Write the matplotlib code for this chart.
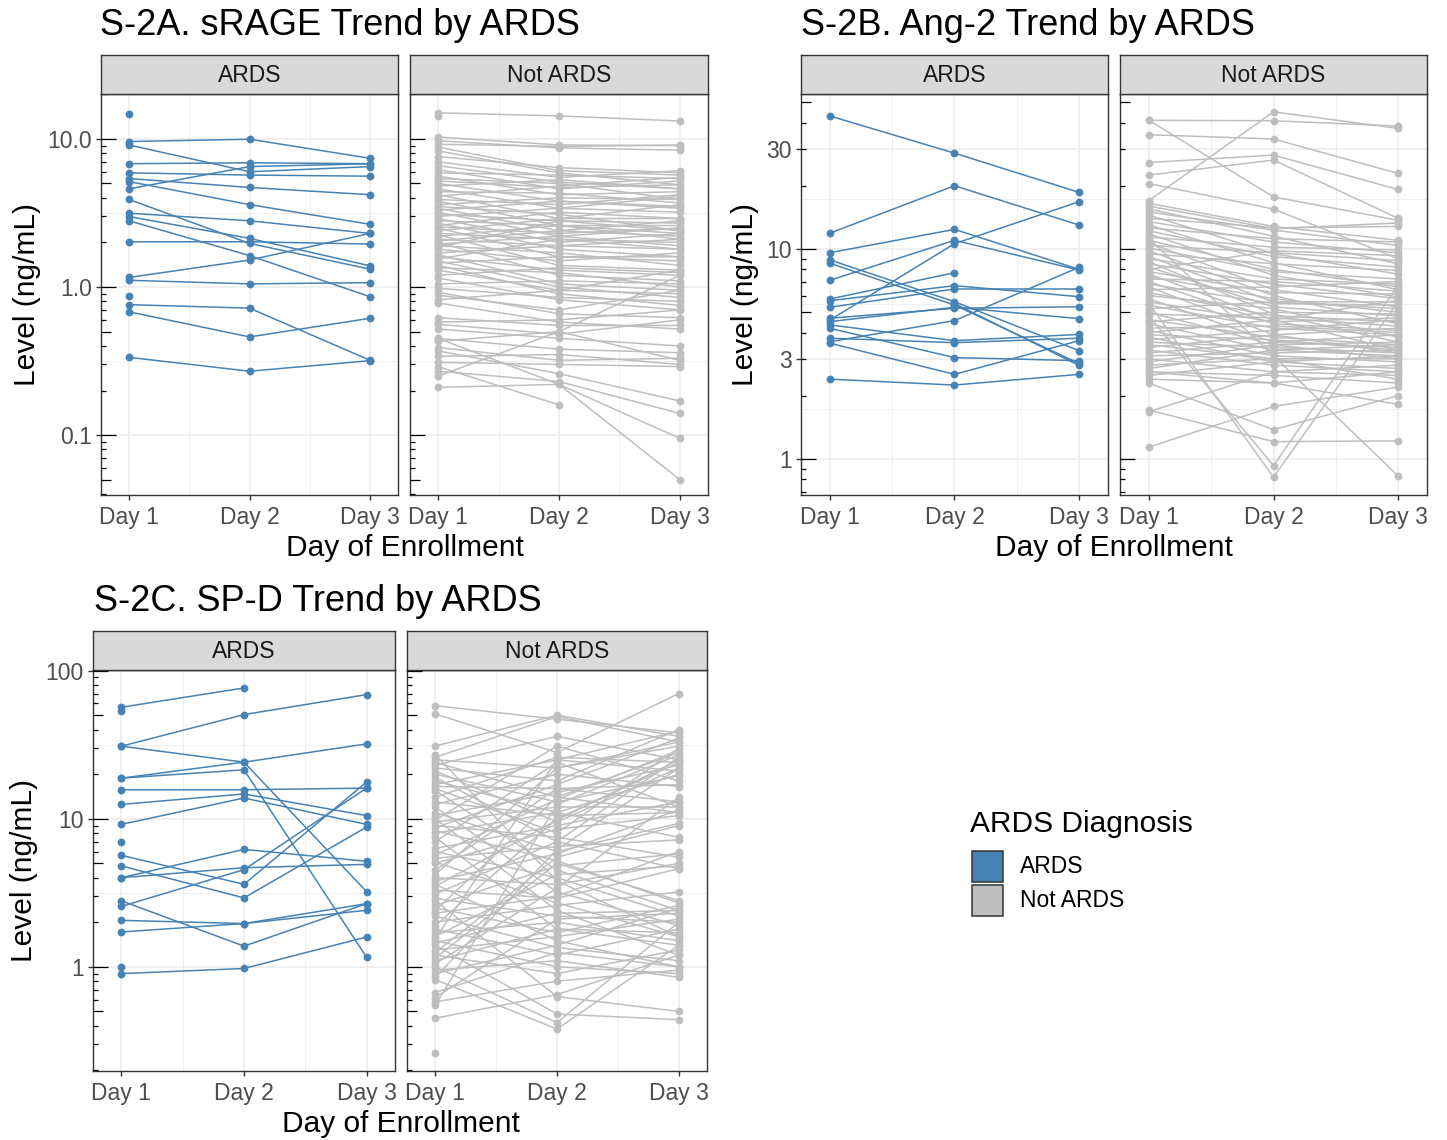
import numpy as np
import matplotlib
matplotlib.use("Agg")
import matplotlib.pyplot as plt
from matplotlib.ticker import NullLocator
from matplotlib.patches import Rectangle

plt.rcParams['font.family'] = ['Liberation Sans', 'DejaVu Sans']

nan = np.nan
W, H = 1447, 1140

days = [1, 2, 3]
day_labels = ['Day 1', 'Day 2', 'Day 3']
group_labels = ['ARDS', 'Not ARDS']
ards_color = '#4682B4'
not_color = '#BEBEBE'

# each row = one patient: (day 1, day 2, day 3), ng/mL
srage_ards = [
    (14.7, nan, nan), (9.6, 9.95, 7.4), (9.1, 6.0, 6.5), (6.8, 6.9, 6.8),
    (5.9, 5.7, 5.6), (5.4, 4.7, 4.2), (4.6, 6.5, 6.8), (5.15, 3.6, 2.65),
    (3.9, 1.97, 1.32), (3.15, 2.8, 2.3), (2.99, 2.13, 1.39), (2.8, 1.63, 0.86),
    (2.02, 2.02, 1.95), (1.16, 1.52, 2.3), (1.11, 1.05, 1.07), (0.87, nan, nan),
    (0.76, 0.72, 0.32), (0.68, 0.46, 0.615), (0.335, 0.27, 0.318),
]
srage_not = [
    (15.0, 14.3, 13.2), (14.2, nan, nan), (10.3, 9.1, 9.0), (9.7, 8.7, 8.4),
    (9.2, 8.9, 9.1), (8.8, 6.1, 5.7), (8.3, 5.9, 4.9), (7.6, 6.4, 5.9),
    (7.0, 5.5, 6.1), (6.6, 5.1, 4.6), (6.2, 4.6, 5.2), (5.9, 5.7, 5.4),
    (5.6, 4.2, 4.4), (5.4, 5.0, 3.9), (5.2, 4.7, 4.9), (5.0, 3.8, 3.5),
    (4.8, 5.3, 4.6), (4.6, 3.4, 3.2), (4.4, 4.3, 3.7), (4.2, 2.9, 2.9),
    (4.1, 4.8, 5.5), (3.9, 3.6, 4.2), (3.8, 2.6, 2.6), (3.6, 4.0, 3.9),
    (3.5, 3.1, 2.4), (3.4, 2.4, 2.2), (3.3, 3.8, 3.4), (3.2, 2.2, 1.9),
    (3.1, 2.8, 2.7), (3.0, 3.4, 4.1), (2.9, 2.0, 2.3), (2.8, 2.6, 2.1),
    (2.7, 1.8, 1.6), (2.6, 3.2, 2.9), (2.55, 2.3, 2.5), (2.5, 1.6, 1.5),
    (2.4, 2.9, 3.6), (2.3, 2.1, 2.0), (2.25, 1.4, 1.3), (2.2, 2.6, 2.3),
    (2.1, 1.9, 1.8), (2.05, 2.4, 2.8), (2.0, 1.2, 1.1), (1.95, 2.2, 2.5),
    (1.9, 1.7, 1.4), (1.85, 2.8, 2.4), (1.8, 1.5, 1.7), (1.7, 1.9, 2.1),
    (1.65, 1.05, 0.95), (1.6, 1.3, 1.2), (1.55, 2.1, 1.8), (1.5, 1.0, 0.85),
    (1.45, 1.6, 1.6), (1.4, 0.9, 0.75), (1.35, 1.25, 1.0), (1.3, 0.95, 0.9),
    (1.2, 1.35, 1.25), (1.15, 0.82, 0.7), (1.05, 1.1, 1.05), (0.98, 0.85, 0.8),
    (0.92, 0.66, 0.62), (0.88, 0.7, 0.95), (0.82, 0.95, 1.3), (0.78, 0.58, 0.52),
    (0.62, 0.55, 0.55), (0.58, 0.6, 0.7), (0.56, 0.48, 0.6), (0.52, 0.45, 0.4),
    (0.45, 0.38, 0.36), (0.43, 0.5, 0.32), (0.45, 0.22, 0.05), (0.39, 0.32, 0.33),
    (0.37, 0.26, 0.17), (0.34, 0.35, 0.3), (0.31, 0.3, 0.29), (0.29, 0.16, nan),
    (0.27, 0.23, 0.14), (0.25, 0.5, 1.2), (0.21, 0.22, 0.095),
]
ang2_ards = [
    (43.0, 28.6, 18.6), (11.9, 20.0, 13.0), (9.6, 12.4, 8.0), (4.59, 10.6, 16.8),
    (7.1, 11.0, 7.94), (8.87, 5.61, 3.28), (8.55, 5.41, 2.85), (5.78, 7.71, nan),
    (5.67, 6.69, 5.93), (5.28, 6.45, 6.45), (4.68, 5.22, 5.31), (4.51, 5.28, 4.66),
    (4.35, 3.66, 3.92), (4.19, 3.04, 2.94), (3.76, 3.58, 3.76), (3.62, 4.56, 8.18),
    (3.56, 2.53, 3.66), (2.40, 2.25, 2.53), (nan, 5.5, 2.79),
]
ang2_not = [
    (41.0, 40.8, 38.5), (41.0, 17.7, 13.7), (35.0, 33.4, 22.9), (25.8, 28.0, 19.2),
    (22.5, 26.5, 14.0), (20.5, 15.5, 9.0), (17.0, 45.0, 37.5), (16.5, 12.8, 11.0),
    (16.0, 12.5, 13.3), (15.5, 11.5, 8.5), (15.0, 12.3, 10.4), (14.5, 9.5, 7.6),
    (14.0, 12.6, 12.8), (13.5, 10.8, 9.6), (13.0, 8.6, 6.4), (12.6, 11.2, 10.8),
    (12.2, 9.2, 8.2), (11.8, 7.5, 5.9), (11.4, 10.2, 9.9), (11.2, 3.1, 0.83),
    (11.0, 8.0, 6.6), (10.7, 6.4, 5.3), (10.4, 9.6, 8.8), (10.1, 7.8, 7.2),
    (9.8, 6.0, 4.4), (9.5, 8.5, 7.9), (9.2, 5.6, 5.6), (9.0, 7.2, 6.8),
    (8.7, 4.9, 3.6), (8.5, 6.8, 5.8), (8.2, 5.3, 4.8), (8.0, 9.8, 9.3),
    (7.8, 6.2, 6.1), (7.6, 4.6, 3.3), (7.4, 5.8, 5.0), (7.2, 7.0, 6.3),
    (7.0, 4.4, 4.1), (6.8, 5.5, 5.4), (6.6, 3.9, 3.2), (6.4, 6.6, 7.0),
    (6.2, 4.8, 4.5), (6.0, 5.2, 3.8), (5.8, 3.6, 3.4), (5.6, 4.5, 4.7),
    (5.5, 0.82, 5.6), (5.4, 4.2, 3.9), (5.2, 5.6, 5.2), (5.0, 3.5, 3.0),
    (4.9, 4.7, 4.3), (4.8, 0.93, 6.7), (4.6, 3.8, 3.5), (4.5, 5.0, 4.9),
    (4.4, 3.3, 3.1), (4.2, 4.3, 4.0), (4.1, 3.1, 2.9), (4.0, 4.6, 5.7),
    (3.9, 3.7, 3.3), (3.8, 2.9, 2.7), (3.7, 4.1, 4.6), (3.6, 3.4, 3.2),
    (3.5, 3.0, 3.0), (3.4, 3.9, 4.2), (3.3, 2.8, 2.6), (3.2, 3.6, 3.9),
    (3.1, 3.2, 3.3), (3.0, 2.6, 2.5), (2.9, 3.5, 3.6), (2.8, 3.0, 2.4),
    (2.7, 3.3, 3.5), (2.6, 2.5, 2.3), (2.5, 2.9, 3.1), (2.4, 2.3, 2.6),
    (2.6, 2.3, 1.82), (2.3, 1.38, 2.0), (1.71, 1.21, 1.22), (1.68, 2.6, 2.8),
    (1.14, 1.78, 2.2),
]
spd_ards = [
    (56.6, 76.4, nan), (53.8, nan, nan), (30.9, 50.5, 68.9), (30.9, 24.1, 3.22),
    (18.8, 24.1, 32.0), (18.8, 21.4, 1.16), (15.7, 15.7, 16.1), (12.5, 14.7, 10.5),
    (9.16, 13.8, 9.16), (6.96, nan, nan), (5.66, 3.61, 17.7), (4.80, 2.92, 8.79),
    (4.0, 6.21, 5.16), (4.0, 4.67, 4.92), (2.79, 1.38, 2.67), (2.56, 4.53, 16.1),
    (2.06, 1.96, 2.41), (1.72, 1.96, 2.67), (0.90, 0.975, 1.59), (1.0, nan, nan),
]
spd_not = [
    (58, 47, 38), (51, 28, 70), (31, 50, 36), (27, 3.8, 1.6), (26, 49, 33),
    (25, 22, 31), (24, 14, 28), (23, 36, 25), (22, 18, 40), (21, 9.5, 22),
    (20, 13, 19.5), (19, 7.0, 4.6), (18, 11, 7.5), (17, 25, 21), (16.5, 16, 13),
    (16, 8.0, 30), (15.5, 4.5, 2.4), (14, 26, 24), (13, 10.5, 11), (12.5, 20, 16.5),
    (12, 3.2, 1.9), (11, 6.0, 9.3), (10.5, 15, 23), (10, 2.4, 1.2), (9.8, 31, 18),
    (9.5, 12, 12), (9.0, 7.5, 5.5), (8.7, 17, 35), (8.3, 5.2, 2.7), (8.0, 11, 20),
    (7.5, 1.8, 1.4), (7.0, 24, 12), (6.3, 9.0, 13), (6.0, 4.0, 2.2), (5.7, 13.5, 29),
    (5.4, 6.5, 7.2), (5.1, 2.7, 1.6), (5.0, 8.5, 10.5), (4.5, 16, 17), (4.2, 22, 33),
    (4.0, 3.6, 5.0), (3.8, 5.8, 11.5), (3.6, 1.5, 1.0), (3.5, 9.8, 25), (3.3, 2.9, 4.6),
    (3.1, 7.0, 26), (2.9, 2.2, 2.0), (2.8, 0.63, 0.5), (2.6, 4.8, 5.8), (2.5, 1.7, 2.6),
    (2.4, 14, 11), (2.3, 3.0, 6.0), (2.2, 1.35, 1.1), (2.0, 2.6, 3.2), (1.9, 10, 24),
    (1.8, 1.2, 1.8), (1.7, 2.0, 1.5), (1.6, 4.2, 4.8), (1.55, 25, 39), (1.5, 1.0, 0.9),
    (1.45, 2.3, 2.4), (1.4, 0.48, 0.44), (1.3, 1.6, 2.1), (1.25, 5.5, 9.0), (1.2, 0.9, 1.3),
    (1.15, 5.0, 2.8), (1.1, 1.8, 1.7), (1.05, 3.4, 14), (1.0, 0.42, 2.0), (0.95, 1.1, 0.85),
    (0.9, 1.4, 2.5), (0.85, 6.2, 22), (0.82, 0.38, 1.4), (0.67, 1.25, 1.0), (0.62, 2.1, 2.3),
    (0.58, 0.8, 0.95), (0.55, 12.5, 27), (0.45, 0.65, 1.2), (0.26, nan, nan),
]


def px_axes(fig, x0, y0, x1, y1):
    return fig.add_axes([x0 / W, 1 - y1 / H, (x1 - x0) / W, (y1 - y0) / H])


def log_ticks(ax, lo, hi, width_px):
    tr = ax.get_yaxis_transform()
    for e in range(int(np.floor(np.log10(lo))), int(np.ceil(np.log10(hi))) + 1):
        for m in range(1, 10):
            v = m * 10.0 ** e
            if lo <= v <= hi:
                n = 15 if m == 1 else 10 if m == 5 else 5
                ax.plot([0, n / width_px], [v, v], transform=tr, color='black',
                        lw=0.9, solid_capstyle='butt', zorder=4)


def panel(fig, box, rows, color, label, ylim, breaks, ticklabels, show_y):
    x0, y0, x1, y1 = box
    ax = px_axes(fig, x0, y0, x1, y1)
    ax.set_yscale('log')
    lb = np.log10(breaks)
    minor = 10 ** ((lb[:-1] + lb[1:]) / 2)
    for v in breaks:
        ax.axhline(v, color='#EBEBEB', lw=1.1, zorder=0)
    for v in minor:
        ax.axhline(v, color='#EBEBEB', lw=0.55, zorder=0)
    for d in days:
        ax.axvline(d, color='#EBEBEB', lw=1.1, zorder=0)
    for d in (1.5, 2.5):
        ax.axvline(d, color='#EBEBEB', lw=0.55, zorder=0)
    for r in rows:
        ax.plot(days, r, '-o', color=color, lw=1.1, ms=5.6, mew=0, zorder=2)
    log_ticks(ax, ylim[0], ylim[1], x1 - x0)
    ax.set_xlim(0.768, 3.232)
    ax.set_ylim(*ylim)
    ax.yaxis.set_minor_locator(NullLocator())
    ax.set_xticks(days)
    ax.set_xticklabels(day_labels)
    ax.set_yticks(breaks)
    ax.set_yticklabels(ticklabels)
    ax.tick_params(direction='out', length=3.6, width=1.0, color='#333333',
                   labelsize=16.5, labelcolor='#4D4D4D')
    ax.tick_params(axis='x', pad=4.5)
    ax.tick_params(axis='y', pad=3)
    if not show_y:
        ax.tick_params(axis='y', length=0, labelleft=False)
    for s in ax.spines.values():
        s.set_color('#333333')
        s.set_linewidth(1.0)
    st = px_axes(fig, x0, y0 - 39, x1, y0)
    st.set_facecolor('#D9D9D9')
    st.set_xticks([])
    st.set_yticks([])
    for s in st.spines.values():
        s.set_color('#333333')
        s.set_linewidth(1.0)
    st.text(0.5, 0.47, label, ha='center', va='center', fontsize=16.5,
            color='#1A1A1A', transform=st.transAxes)
    return ax


def figure_block(fig, boxes, data, ylim, breaks, ticklabels, title, title_xy,
                 xlab_xy, ylab_xy):
    colors = [ards_color, not_color]
    for i in range(2):
        panel(fig, boxes[i], data[i], colors[i], group_labels[i], ylim,
              breaks, ticklabels, i == 0)
    fig.text(title_xy[0] / W, 1 - title_xy[1] / H, title, fontsize=26,
             va='baseline', ha='left')
    fig.text(xlab_xy[0] / W, 1 - xlab_xy[1] / H, 'Day of Enrollment',
             fontsize=21.5, ha='center', va='baseline')
    fig.text(ylab_xy[0] / W, 1 - ylab_xy[1] / H, 'Level (ng/mL)',
             fontsize=21.5, ha='center', va='center', rotation=90)


fig = plt.figure(figsize=(W / 100, H / 100), dpi=100)

figure_block(fig, [(101, 94, 398, 495), (410, 94, 708, 495)],
             [srage_ards, srage_not], (0.0394, 20.1), [0.1, 1, 10],
             ['0.1', '1.0', '10.0'], 'S-2A. sRAGE Trend by ARDS',
             (100, 35), (405, 556), (27, 294))

figure_block(fig, [(801, 94, 1108, 495), (1120, 94, 1427, 495)],
             [ang2_ards, ang2_not], (0.674, 54.7), [1, 3, 10, 30],
             ['1', '3', '10', '30'], 'S-2B. Ang-2 Trend by ARDS',
             (801, 35), (1114, 556), (745, 294))

figure_block(fig, [(93, 670, 395, 1071), (407, 670, 707, 1071)],
             [spd_ards, spd_not], (0.198, 101), [1, 10, 100],
             ['1', '10', '100'], 'S-2C. SP-D Trend by ARDS',
             (94, 611), (401, 1132), (24, 870))

# legend
fig.text(970 / W, 1 - 832 / H, 'ARDS Diagnosis', fontsize=21.5,
         ha='left', va='baseline')
for i, (lab, col) in enumerate(zip(group_labels, [ards_color, not_color])):
    ytop = 851 + i * 34
    fig.add_artist(Rectangle((972 / W, 1 - (ytop + 31) / H), 31 / W, 31 / H,
                             transform=fig.transFigure, facecolor=col,
                             edgecolor='#333333', lw=1.1))
    fig.text(1020 / W, 1 - (ytop + 15.5) / H, lab, fontsize=16.5,
             ha='left', va='center')

fig.savefig('out.png', dpi=100)
